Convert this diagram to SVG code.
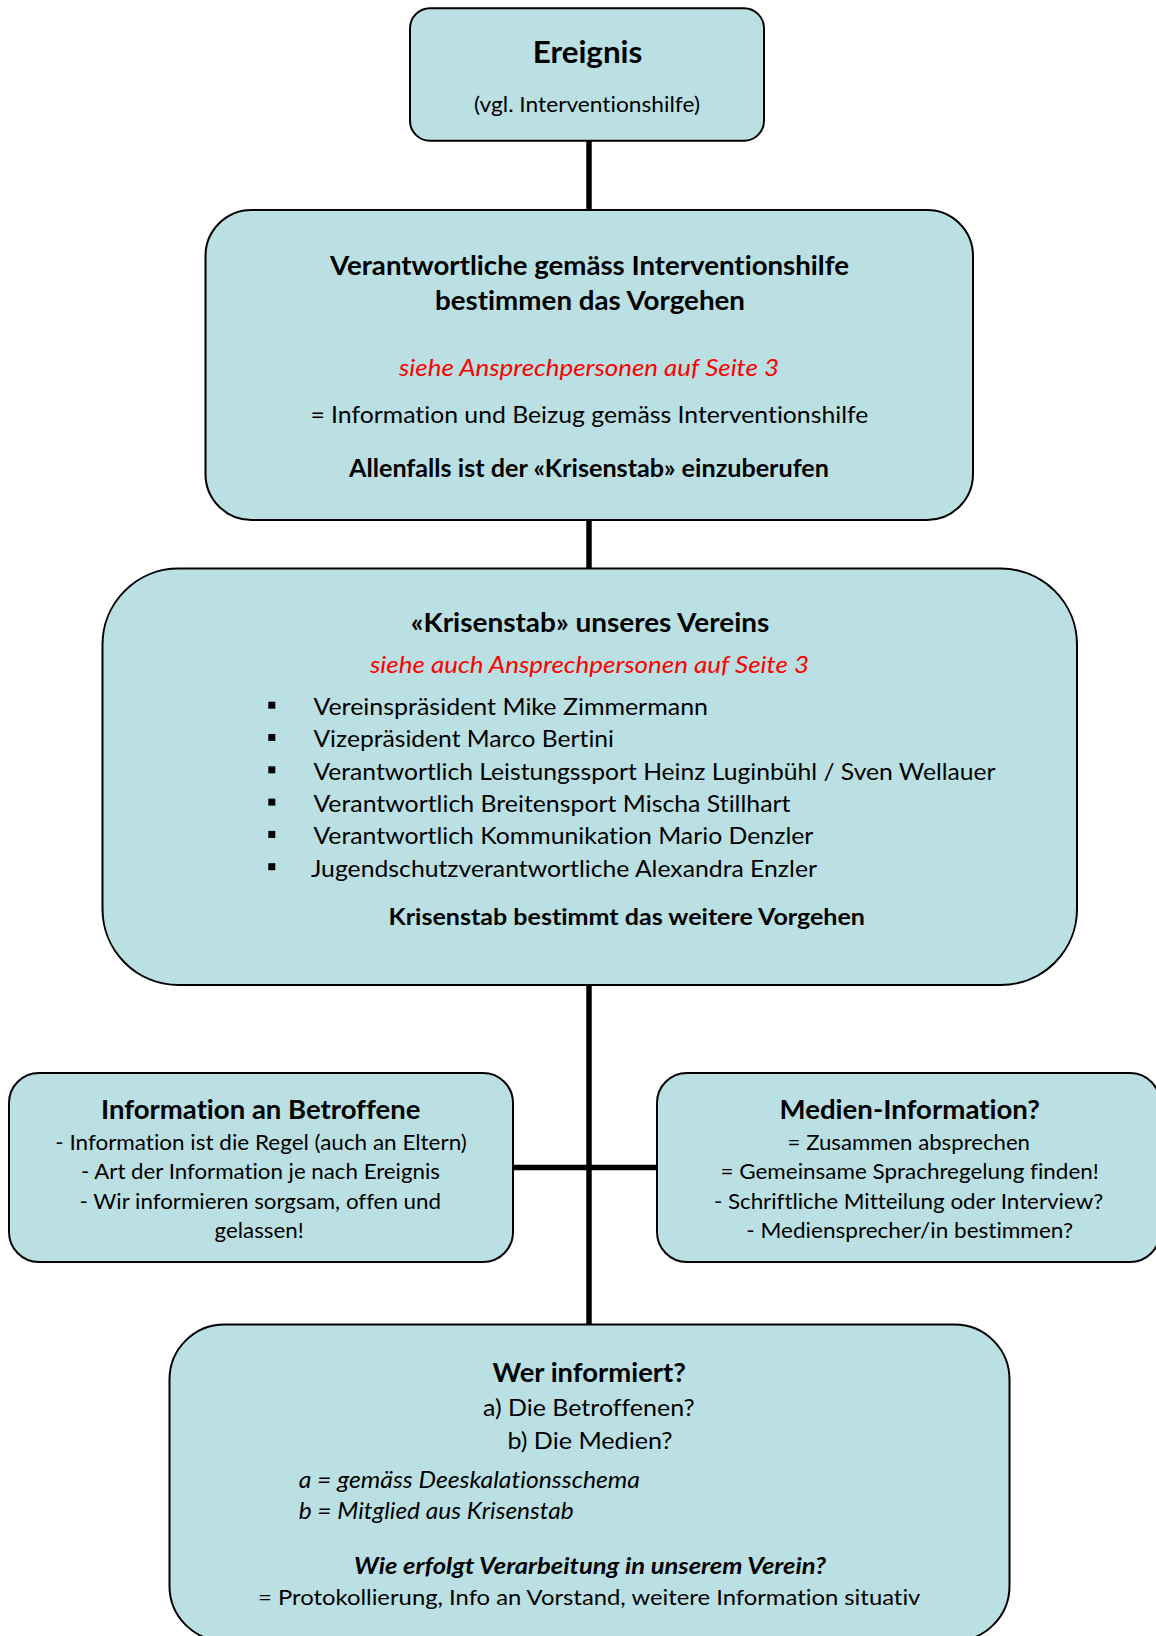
<svg xmlns="http://www.w3.org/2000/svg" width="1156" height="1636" viewBox="0 0 1156 1636">
<style>
.box{fill:#BBE0E3;stroke:#000;stroke-width:2}
.con{stroke:#000;stroke-width:5.5;fill:none}
text{font-family:Lato,"Open Sans","Liberation Sans",sans-serif;fill:#000;font-variant-ligatures:none;font-feature-settings:"liga" 0,"dlig" 0}
.b{font-weight:bold}
.i{font-style:italic}
.red{fill:#FF0000}
.bul{fill:#000}
</style>
<rect width="1156" height="1636" fill="#FFFFFF"/>
<g id="connectors">
<line class="con" x1="589" y1="140" x2="589" y2="211"/>
<line class="con" x1="589" y1="519" x2="589" y2="570"/>
<line class="con" x1="589" y1="984" x2="589" y2="1326"/>
<line class="con" x1="512" y1="1167.5" x2="658" y2="1167.5"/>
</g>
<g id="ereignis">
<rect class="box" x="410" y="8.3" width="354" height="132.4" rx="20"/>
<text class="b" x="532.7" y="63.3" font-size="30" textLength="109.7" lengthAdjust="spacingAndGlyphs">Ereignis</text>
<text x="474" y="111.7" font-size="21.5" textLength="226" lengthAdjust="spacingAndGlyphs">(vgl. Interventionshilfe)</text>
</g>
<g id="verantwortliche">
<rect class="box" x="205.5" y="210" width="767.5" height="310" rx="46"/>
<text class="b" x="330" y="275" font-size="26.5" textLength="519" lengthAdjust="spacingAndGlyphs">Verantwortliche gemäss Interventionshilfe</text>
<text class="b" x="435" y="310" font-size="26.5" textLength="310" lengthAdjust="spacingAndGlyphs">bestimmen das Vorgehen</text>
<text class="i red" x="399" y="376" font-size="23.5" textLength="380" lengthAdjust="spacingAndGlyphs">siehe Ansprechpersonen auf Seite 3</text>
<text x="310.4" y="423" font-size="23.5" textLength="558" lengthAdjust="spacingAndGlyphs">= Information und Beizug gemäss Interventionshilfe</text>
<text class="b" x="349" y="476.7" font-size="23.8" textLength="480" lengthAdjust="spacingAndGlyphs">Allenfalls ist der «Krisenstab» einzuberufen</text>
</g>
<g id="krisenstab">
<rect class="box" x="102.5" y="568.6" width="974.5" height="416.4" rx="76"/>
<text class="b" x="410.8" y="632.3" font-size="26.8" textLength="358.5" lengthAdjust="spacingAndGlyphs">«Krisenstab» unseres Vereins</text>
<text class="i red" x="370" y="673" font-size="23.6" textLength="439" lengthAdjust="spacingAndGlyphs">siehe auch Ansprechpersonen auf Seite 3</text>
<rect class="bul" x="268.3" y="701.7" width="7" height="7"/>
<rect class="bul" x="268.3" y="734" width="7" height="7"/>
<rect class="bul" x="268.3" y="766.3" width="7" height="7"/>
<rect class="bul" x="268.3" y="798.6" width="7" height="7"/>
<rect class="bul" x="268.3" y="830.9" width="7" height="7"/>
<rect class="bul" x="268.3" y="863.2" width="7" height="7"/>
<text x="313.4" y="715" font-size="23.7" textLength="394.6" lengthAdjust="spacingAndGlyphs">Vereinspräsident Mike Zimmermann</text>
<text x="313.4" y="747.3" font-size="23.7" textLength="300.6" lengthAdjust="spacingAndGlyphs">Vizepräsident Marco Bertini</text>
<text x="313.4" y="779.6" font-size="23.7" textLength="682.2" lengthAdjust="spacingAndGlyphs">Verantwortlich Leistungssport Heinz Luginbühl / Sven Wellauer</text>
<text x="313.4" y="811.9" font-size="23.7" textLength="477.1" lengthAdjust="spacingAndGlyphs">Verantwortlich Breitensport Mischa Stillhart</text>
<text x="313.4" y="844.2" font-size="23.7" textLength="500" lengthAdjust="spacingAndGlyphs">Verantwortlich Kommunikation Mario Denzler</text>
<text x="311" y="876.5" font-size="23.7" textLength="506" lengthAdjust="spacingAndGlyphs">Jugendschutzverantwortliche Alexandra Enzler</text>
<text class="b" x="388.6" y="925" font-size="23.6" textLength="476.4" lengthAdjust="spacingAndGlyphs">Krisenstab bestimmt das weitere Vorgehen</text>
</g>
<g id="betroffene">
<rect class="box" x="9" y="1073" width="504" height="189" rx="30"/>
<text class="b" x="101" y="1118.8" font-size="26.2" textLength="319.4" lengthAdjust="spacingAndGlyphs">Information an Betroffene</text>
<text x="55.3" y="1150" font-size="21.6" textLength="411.5" lengthAdjust="spacingAndGlyphs">- Information ist die Regel (auch an Eltern)</text>
<text x="81" y="1179.4" font-size="21.6" textLength="359" lengthAdjust="spacingAndGlyphs">- Art der Information je nach Ereignis</text>
<text x="79.6" y="1208.8" font-size="21.6" textLength="361.4" lengthAdjust="spacingAndGlyphs">- Wir informieren sorgsam, offen und</text>
<text x="214.6" y="1238" font-size="21.6" textLength="89.2" lengthAdjust="spacingAndGlyphs">gelassen!</text>
</g>
<g id="medien">
<rect class="box" x="657" y="1073" width="503" height="189" rx="30"/>
<text class="b" x="779.5" y="1118.8" font-size="26.2" textLength="260.5" lengthAdjust="spacingAndGlyphs">Medien-Information?</text>
<text x="787.6" y="1150" font-size="21.6" textLength="242.4" lengthAdjust="spacingAndGlyphs">= Zusammen absprechen</text>
<text x="720.5" y="1179.4" font-size="21.6" textLength="378.3" lengthAdjust="spacingAndGlyphs">= Gemeinsame Sprachregelung finden!</text>
<text x="713.9" y="1208.8" font-size="21.6" textLength="389.3" lengthAdjust="spacingAndGlyphs">- Schriftliche Mitteilung oder Interview?</text>
<text x="746.3" y="1238" font-size="21.6" textLength="326.7" lengthAdjust="spacingAndGlyphs">- Mediensprecher/in bestimmen?</text>
</g>
<g id="wer-informiert">
<rect class="box" x="169.5" y="1324.5" width="840" height="316.5" rx="55"/>
<text class="b" x="492.6" y="1381.5" font-size="26.2" textLength="193.2" lengthAdjust="spacingAndGlyphs">Wer informiert?</text>
<text x="483" y="1416.4" font-size="23.6" textLength="211.7" lengthAdjust="spacingAndGlyphs">a) Die Betroffenen?</text>
<text x="507.4" y="1448.7" font-size="23.6" textLength="165.2" lengthAdjust="spacingAndGlyphs">b) Die Medien?</text>
<text class="i" x="298.7" y="1488" font-size="23" textLength="341.3" lengthAdjust="spacingAndGlyphs">a = gemäss Deeskalationsschema</text>
<text class="i" x="298.7" y="1518.5" font-size="23" textLength="275" lengthAdjust="spacingAndGlyphs">b = Mitglied aus Krisenstab</text>
<text class="b i" x="354" y="1574.3" font-size="23.6" textLength="472" lengthAdjust="spacingAndGlyphs">Wie erfolgt Verarbeitung in unserem Verein?</text>
<text x="258" y="1604.5" font-size="22" textLength="662.4" lengthAdjust="spacingAndGlyphs">= Protokollierung, Info an Vorstand, weitere Information situativ</text>
</g>
</svg>
